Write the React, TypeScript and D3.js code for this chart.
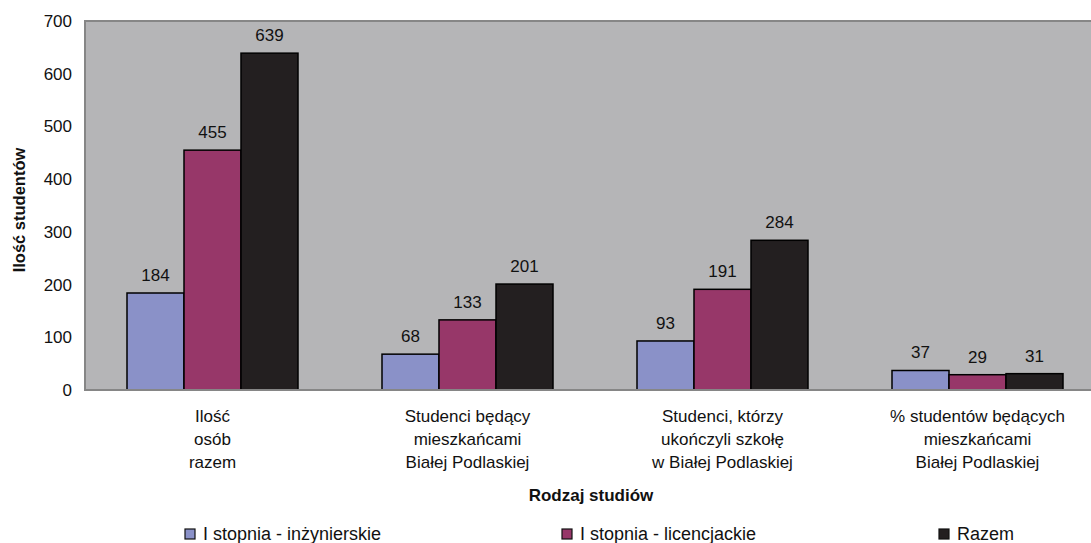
import React from "react";
import * as d3 from "d3";

const categories: string[][] = [
  ["Ilość", "osób", "razem"],
  ["Studenci będący", "mieszkańcami", "Białej Podlaskiej"],
  ["Studenci, którzy", "ukończyli szkołę", "w Białej Podlaskiej"],
  ["% studentów będących", "mieszkańcami", "Białej Podlaskiej"],
];
const seriesNames = ["I stopnia - inżynierskie", "I stopnia - licencjackie", "Razem"];
const inzynierskie = [184, 68, 93, 37];
const licencjackie = [455, 133, 191, 29];
const razem = [639, 201, 284, 31];
const yTicks = [0, 100, 200, 300, 400, 500, 600, 700];
const colors = ["#8A91C8", "#973769", "#231F20"];

const W = 1091;
const H = 543;
const plotLeft = 85;
const plotRight = 1105;
const plotTop = 21;
const plotBottom = 390;
const FONT = "'Liberation Sans', Arial, sans-serif";

export default function App() {
  const series = [inzynierskie, licencjackie, razem];
  const y = d3.scaleLinear().domain([0, 700]).range([plotBottom, plotTop]);
  const x0 = d3
    .scaleBand<number>()
    .domain(categories.map((_, i) => i))
    .range([plotLeft, plotRight])
    .paddingInner(84 / 255)
    .paddingOuter(42 / 255);
  const x1 = d3
    .scaleBand<number>()
    .domain(series.map((_, i) => i))
    .range([0, x0.bandwidth()]);

  return (
    <div style={{ position: "fixed", left: 0, top: 0 }}>
      <svg width={W} height={H} style={{ display: "block", background: "#fff" }}>
        <rect
          x={plotLeft}
          y={plotTop}
          width={plotRight - plotLeft}
          height={plotBottom - plotTop}
          fill="#B5B5B7"
          stroke="#868686"
          strokeWidth={2}
        />
        {series.map((vals, si) =>
          vals.map((v, ci) => {
            const bx = (x0(ci) as number) + (x1(si) as number);
            return (
              <g key={`${si}-${ci}`}>
                <rect
                  x={bx}
                  y={y(v)}
                  width={x1.bandwidth()}
                  height={plotBottom - y(v)}
                  fill={colors[si]}
                  stroke="#000"
                  strokeWidth={1.5}
                />
                <text
                  x={bx + x1.bandwidth() / 2}
                  y={y(v) - 12}
                  textAnchor="middle"
                  fontFamily={FONT}
                  fontSize={17}
                  fill="#111"
                >
                  {v}
                </text>
              </g>
            );
          })
        )}
        <line x1={plotLeft} x2={W} y1={plotBottom} y2={plotBottom} stroke="#868686" strokeWidth={2} />
        {yTicks.map((t) => (
          <text
            key={t}
            x={72}
            y={y(t)}
            dy="0.35em"
            textAnchor="end"
            fontFamily={FONT}
            fontSize={17}
            fill="#111"
          >
            {t}
          </text>
        ))}
        {categories.map((lines, ci) => {
          const cx = (x0(ci) as number) + x0.bandwidth() / 2;
          return (
            <text key={ci} textAnchor="middle" fontFamily={FONT} fontSize={17} fill="#111">
              {lines.map((l, li) => (
                <tspan key={li} x={cx} y={422 + li * 23}>
                  {l}
                </tspan>
              ))}
            </text>
          );
        })}
        <text
          x={591}
          y={501}
          textAnchor="middle"
          fontFamily={FONT}
          fontSize={17}
          fontWeight="bold"
          fill="#111"
        >
          Rodzaj studiów
        </text>
        <text
          transform={`translate(25,210) rotate(-90)`}
          textAnchor="middle"
          fontFamily={FONT}
          fontSize={16.5}
          fontWeight="bold"
          fill="#111"
        >
          Ilość studentów
        </text>
        {seriesNames.map((name, si) => {
          const lx = 185 + si * 377;
          return (
            <g key={name}>
              <rect x={lx} y={529} width={10} height={10} fill={colors[si]} stroke="#111" strokeWidth={1.2} />
              <text x={lx + 18} y={540} fontFamily={FONT} fontSize={18} fill="#111">
                {name}
              </text>
            </g>
          );
        })}
      </svg>
    </div>
  );
}
